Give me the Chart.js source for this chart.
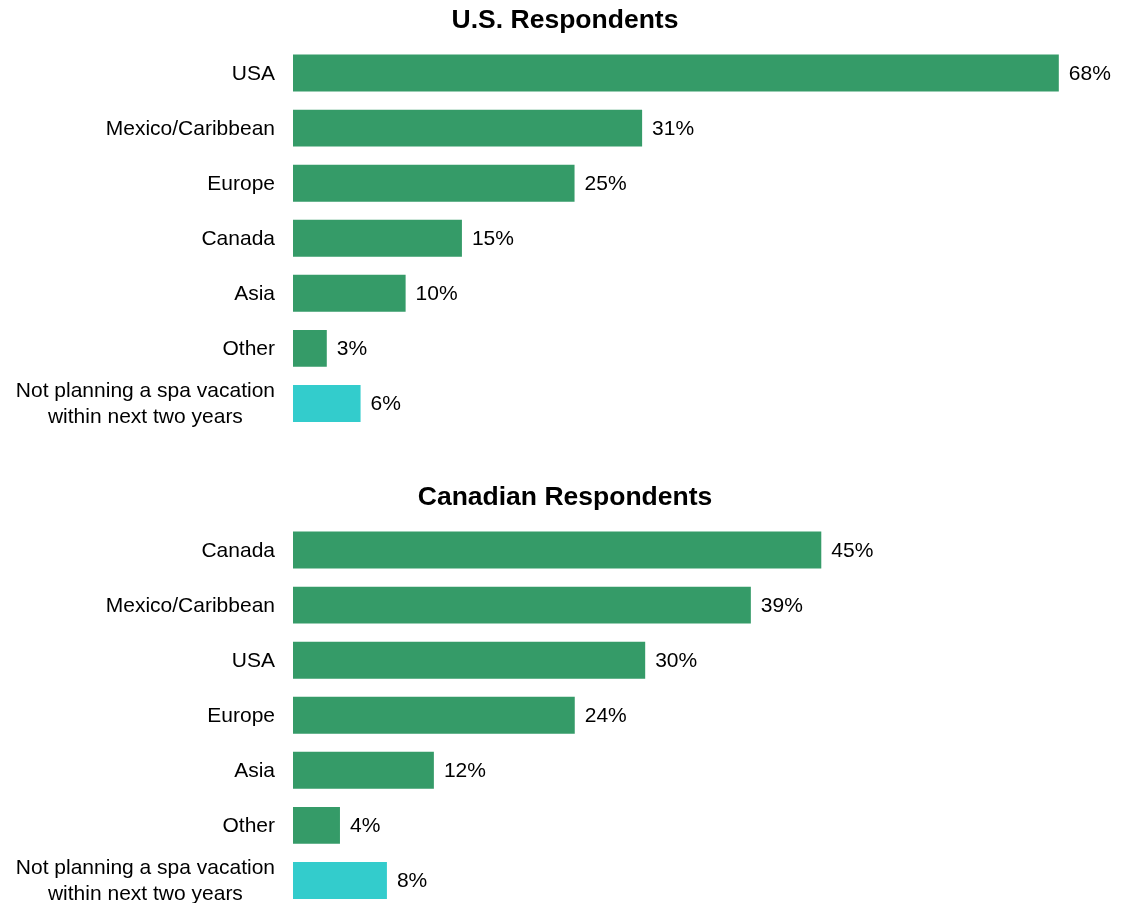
<!DOCTYPE html>
<html>
<head>
<meta charset="utf-8">
<script src="https://cdn.jsdelivr.net/npm/chart.js@4.4.1/dist/chart.umd.min.js"></script>
<style>
  html, body { margin: 0; padding: 0; background: #fff; overflow: hidden; }
  body { width: 1123px; height: 903px; position: relative; }
  canvas { position: absolute; left: 0; }
  #usChart { top: 0; }
  #caChart { top: 477px; }
</style>
</head>
<body>
<canvas id="usChart" width="1123" height="431"></canvas>
<canvas id="caChart" width="1123" height="431"></canvas>

<script>
// spa vacation destinations, % of respondents
const usLabels = ['USA', 'Mexico/Caribbean', 'Europe', 'Canada', 'Asia', 'Other',
    ['Not planning a spa vacation', 'within next two years']];
const usValues = [68, 31, 25, 15, 10, 3, 6];

const caLabels = ['Canada', 'Mexico/Caribbean', 'USA', 'Europe', 'Asia', 'Other',
    ['Not planning a spa vacation', 'within next two years']];
const caValues = [45, 39, 30, 24, 12, 4, 8];

const GREEN = '#359b68';
const TEAL = '#33cccc';
const FONT = 'Liberation Sans, Arial, Helvetica, sans-serif';
const LABEL_FONT = '21px ' + FONT;

// last bar ("not planning") gets the teal colour
function barColors(values) {
    return values.map((v, i) => i === values.length - 1 ? TEAL : GREEN);
}

// value labels to the right of each bar
const valueLabels = {
    id: 'valueLabels',
    afterDatasetsDraw(chart) {
        const ctx = chart.ctx;
        const meta = chart.getDatasetMeta(0);
        const data = chart.data.datasets[0].data;
        ctx.save();
        ctx.font = LABEL_FONT;
        ctx.fillStyle = '#000';
        ctx.textAlign = 'left';
        ctx.textBaseline = 'middle';
        meta.data.forEach((bar, i) => {
            ctx.fillText(data[i] + '%', bar.x + 10, bar.y + 1);
        });
        ctx.restore();
    }
};

// category labels: right-aligned block, multi-line labels centred line by line
const categoryLabels = {
    id: 'categoryLabels',
    afterDraw(chart) {
        const ctx = chart.ctx;
        const scale = chart.scales.y;
        const right = scale.right - 18;
        const lineH = 26;
        ctx.save();
        ctx.font = LABEL_FONT;
        ctx.fillStyle = '#000';
        ctx.textBaseline = 'middle';
        chart.data.labels.forEach((label, i) => {
            const y = scale.getPixelForTick(i) + 1;
            if (Array.isArray(label)) {
                const w = Math.max(...label.map(l => ctx.measureText(l).width));
                const cx = right - w / 2;
                const y0 = y - (label.length - 1) * lineH / 2;
                ctx.textAlign = 'center';
                label.forEach((line, j) => ctx.fillText(line, cx, y0 + j * lineH));
            } else {
                ctx.textAlign = 'right';
                ctx.fillText(label, right, y);
            }
        });
        ctx.restore();
    }
};

function makeChart(id, title, labels, values, xMax) {
    return new Chart(document.getElementById(id), {
        type: 'bar',
        data: {
            labels: labels,
            datasets: [{
                data: values,
                backgroundColor: barColors(values),
                borderWidth: 0,
                barPercentage: 0.67,
                categoryPercentage: 1
            }]
        },
        options: {
            indexAxis: 'y',
            responsive: false,
            animation: false,
            layout: { padding: { left: 7, right: 0, top: 0, bottom: 0 } },
            plugins: {
                legend: { display: false },
                tooltip: { enabled: false },
                title: {
                    display: true,
                    text: title,
                    color: '#000',
                    font: { family: FONT, size: 26.5, weight: 'bold', lineHeight: 1.2 },
                    padding: { top: 5.1, bottom: 8.6 }
                }
            },
            scales: {
                x: {
                    display: false,
                    min: 0,
                    max: xMax
                },
                y: {
                    grid: { display: false, drawTicks: false },
                    border: { display: false },
                    ticks: { display: false, autoSkip: false },
                    afterFit(scale) {
                        // fixed label column, labels drawn by categoryLabels
                        scale.width = 286;
                        scale.paddingTop = 0;
                        scale.paddingBottom = 0;
                    }
                }
            }
        },
        plugins: [valueLabels, categoryLabels]
    });
}

makeChart('usChart', 'U.S. Respondents', usLabels, usValues, 73.7);
makeChart('caChart', 'Canadian Respondents', caLabels, caValues, 70.7);
</script>
</body>
</html>
